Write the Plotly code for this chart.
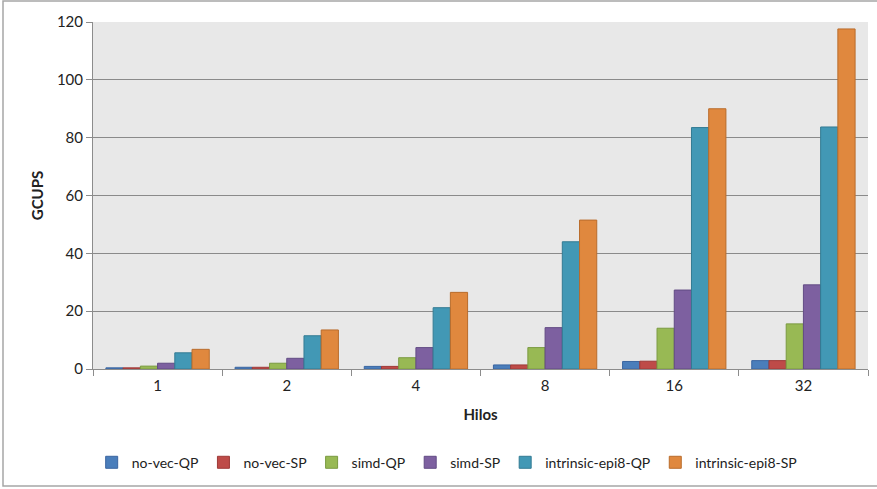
import plotly.graph_objects as go

categories = ["1", "2", "4", "8", "16", "32"]
series_names = ["no-vec-QP", "no-vec-SP", "simd-QP", "simd-SP", "intrinsic-epi8-QP", "intrinsic-epi8-SP"]
no_vec_qp = [0.4, 0.6, 0.9, 1.4, 2.6, 2.9]
no_vec_sp = [0.4, 0.6, 0.9, 1.4, 2.7, 2.9]
simd_qp = [1.0, 2.0, 3.9, 7.4, 14.1, 15.6]
simd_sp = [2.0, 3.7, 7.4, 14.3, 27.3, 29.1]
epi8_qp = [5.6, 11.5, 21.2, 44.0, 83.5, 83.7]
epi8_sp = [6.8, 13.5, 26.5, 51.5, 90.0, 117.6]
y_ticks = [0, 20, 40, 60, 80, 100, 120]

series_values = [no_vec_qp, no_vec_sp, simd_qp, simd_sp, epi8_qp, epi8_sp]
fill_colors = ["#4A7EBB", "#BE4B48", "#98B954", "#7D60A0", "#4298B5", "#E0883E"]
line_colors = ["#3A65A0", "#9E3A38", "#7A9A40", "#624B84", "#337B93", "#B96C2C"]

FONT = "Lato, Carlito, Calibri, Open Sans, sans-serif"

fig = go.Figure()
for name, vals, fc, lc in zip(series_names, series_values, fill_colors, line_colors):
    fig.add_trace(go.Bar(
        x=categories, y=vals, name=name,
        marker=dict(color=fc, line=dict(color=lc, width=1)),
    ))

W, H = 877, 489
L, R, T, B = 93, 9, 22, 120
pw, ph = W - L - R, H - T - B

fig.update_layout(
    width=W, height=H,
    margin=dict(l=L, r=R, t=T, b=B, autoexpand=False),
    paper_bgcolor="white",
    plot_bgcolor="#E8E8E8",
    barmode="group",
    bargap=0.2,
    bargroupgap=0,
    font=dict(family=FONT, size=15, color="#222222"),
    showlegend=True,
    legend=dict(
        orientation="h", x=0.457, xanchor="center", y=-0.27, yanchor="middle",
        font=dict(family=FONT, size=14, color="#222222"),
        itemwidth=30, traceorder="normal", bgcolor="rgba(0,0,0,0)",
    ),
    xaxis=dict(
        type="category", automargin=False,
        title=dict(text="<b>Hilos</b>", font=dict(family=FONT, size=15), standoff=16),
        showline=True, linecolor="#8C8C8C", linewidth=1,
        ticks="outside", tickson="boundaries", ticklen=6, tickcolor="#8C8C8C",
        tickfont=dict(family=FONT, size=15), ticklabelstandoff=3,
        showgrid=False, mirror=False,
    ),
    yaxis=dict(
        range=[0, 120], tickvals=y_ticks, automargin=False,
        title=dict(text="<b>GCUPS</b>", font=dict(family=FONT, size=15), standoff=9),
        showline=True, linecolor="#8C8C8C", linewidth=1,
        ticks="outside", ticklen=6, tickcolor="#8C8C8C",
        tickfont=dict(family=FONT, size=15),
        showgrid=True, gridcolor="#8A8A8A", gridwidth=1,
        zeroline=False,
    ),
)

# outer chart border
fig.add_shape(
    type="rect", xref="paper", yref="paper",
    x0=(3 - L) / pw, x1=(W + 5 - L) / pw,
    y0=(H - B - 486) / ph, y1=(H - B - 1) / ph,
    line=dict(color="#A6A6A6", width=1.5), fillcolor="rgba(0,0,0,0)", layer="below",
)

fig.write_html(
    "out.html",
    config={"displayModeBar": False},
    post_script="document.body.style.margin='0';document.body.style.padding='0';",
)
